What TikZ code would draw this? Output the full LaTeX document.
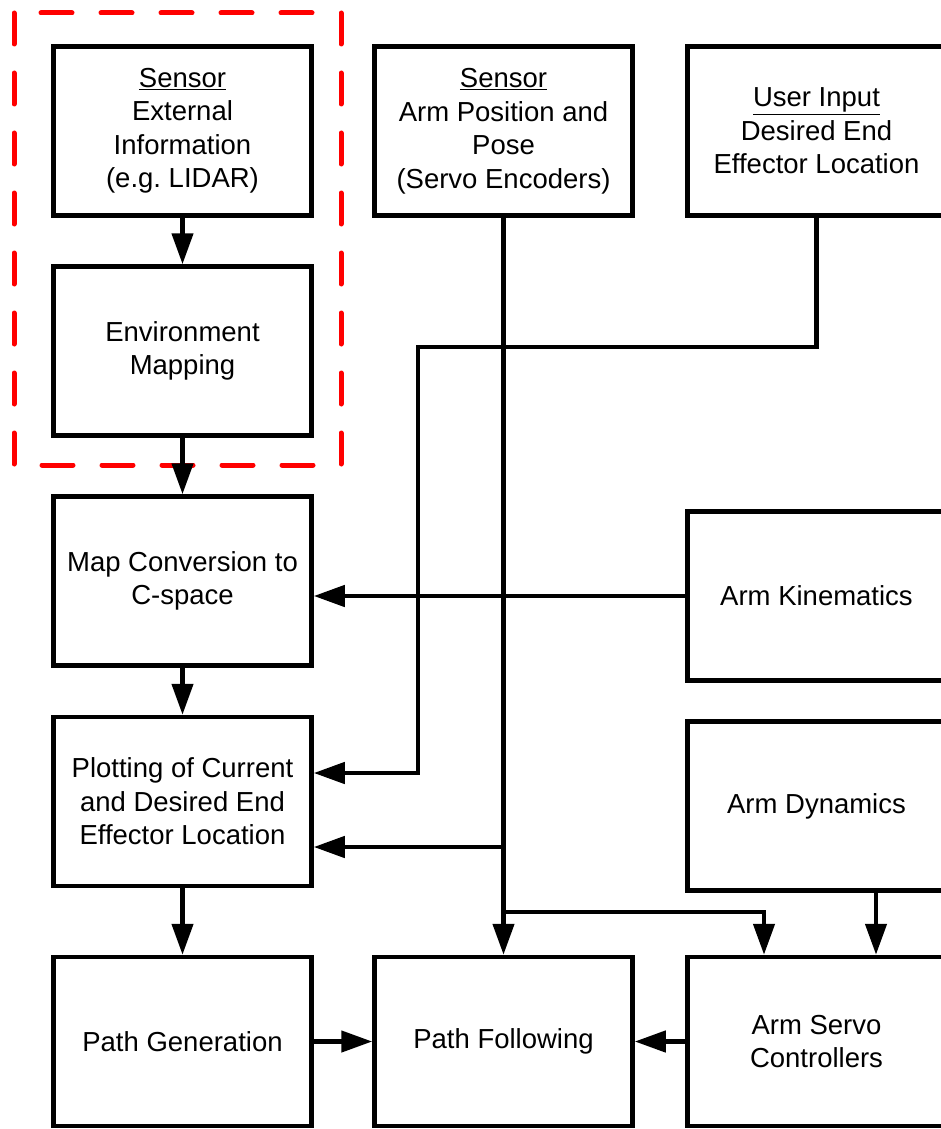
\documentclass[tikz,border=0pt]{standalone}
\usepackage{fontspec}
\setmainfont{Liberation Sans}
\usetikzlibrary{arrows.meta}
\frenchspacing
\begin{document}
\begin{tikzpicture}[x=1pt,y=-1pt,
  blk/.style={draw, line width=4.5pt, fill=white, minimum width=258pt, minimum height=169pt,
    align=center, inner sep=0pt, font=\fontsize{27.5}{33.5}\selectfont},
  link/.style={line width=4.5pt, -{Triangle[width=21pt,length=31pt]}},
  group/.style={draw=red, line width=5pt, dash pattern=on 31pt off 29pt, line cap=round}]
\useasboundingbox (0,0) rectangle (941,1129);
\clip (0,0) rectangle (941,1129);

% sensing group outline
\draw[group] (14,13) rectangle (341,465);

% blocks
\node[blk] (sext) at (182.5,131) {\underline{Sensor}\\External\\Information\\(e.g. LIDAR)};
\node[blk] (sarm) at (503.5,131) {\underline{Sensor}\\Arm Position and\\Pose\\(Servo Encoders)};
\node[blk] (uin)  at (816.5,131) {\underline{User Input}\\Desired End\\Effector Location};
\node[blk] (env)  at (182.5,351) {Environment\\Mapping};
\node[blk] (mapc) at (182.5,581) {Map Conversion to\\C-space};
\node[blk] (kin)  at (816.5,596) {Arm Kinematics};
\node[blk] (plot) at (182.5,801.5) {Plotting of Current\\and Desired End\\Effector Location};
\node[blk] (dyn)  at (816.5,806) {Arm Dynamics};
\node[blk] (pgen) at (182.5,1041.5) {Path Generation};
\node[blk] (pfol) at (503.5,1041.5) {\strut Path Following};
\node[blk] (serv) at (816.5,1041.5) {Arm Servo\\Controllers};

% helper points for routed wires
\coordinate (ubend) at (418,347);
\coordinate (ulow)  at (418,773);
\coordinate (tapA)  at (503.5,847);
\coordinate (tapB)  at (503.5,912);
\coordinate (srvL)  at (764,0);
\coordinate (srvR)  at (876,0);

% connectors
\draw[link] (sext) -- (env);
\draw[link] (env) -- (mapc);
\draw[link] (mapc) -- (plot);
\draw[link] (plot) -- (pgen);
\draw[link] (pgen) -- (pfol);
\draw[link] (serv) -- (pfol);
\draw[link] (kin.west) -- (mapc.east |- kin.west);
\draw[link] (uin.south) |- (ubend) -- (ulow) -- (plot.east |- ulow);
\draw[link] (sarm.south) -- (pfol.north);
\draw[link] (tapA) -- (plot.east |- tapA);
\draw[link] (tapB) -| (serv.north -| srvL);
\draw[link] (dyn.south -| srvR) -- (serv.north -| srvR);
\end{tikzpicture}
\end{document}
